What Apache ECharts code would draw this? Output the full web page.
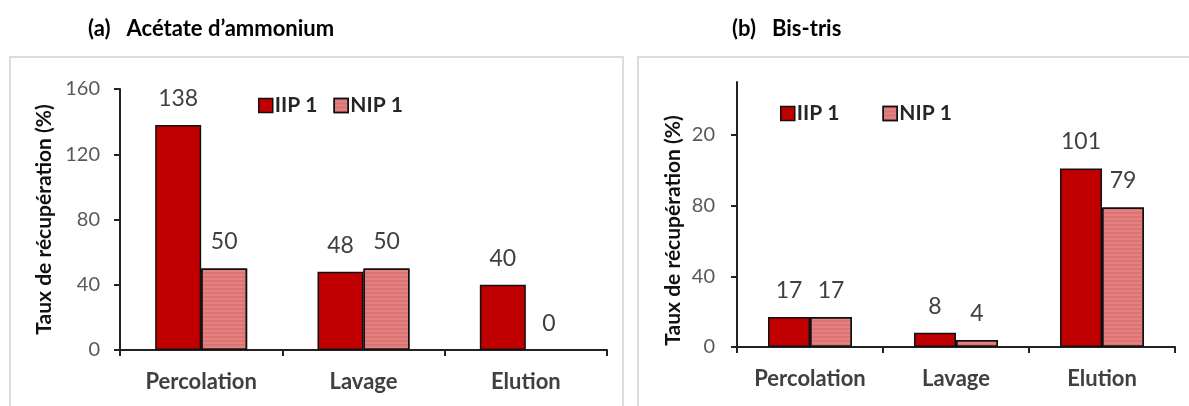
<!DOCTYPE html>
<html>
<head>
<meta charset="utf-8">
<script src="https://cdn.jsdelivr.net/npm/echarts@6/dist/echarts.min.js"></script>
<style>html,body{margin:0;padding:0;background:#fff;}#c{width:1189px;height:406px;}</style>
</head>
<body>
<div id="c"></div>
<script>
// ---- data ----
const categories = ['Percolation', 'Lavage', 'Elution'];
const seriesNames = ['IIP 1', 'NIP 1'];
const iipA = [138, 48, 40];
const nipA = [50, 50, 0];
const iipB = [17, 8, 101];
const nipB = [17, 4, 79];
const ticksA = [0, 40, 80, 120, 160];
const ticksB = [0, 40, 80, 120];
const tickLabelsB = ['0', '40', '80', '20'];
const titleA = '(a)   Acétate d\u2019ammonium';
const titleB = '(b)   Bis-tris';
const yName = 'Taux de récupération (%)';

const FONT = 'Lato';
const RED = '#C00000';
const PINK = '#E48181';

const chart = echarts.init(document.getElementById('c'), null, {renderer: 'canvas'});

function barData(arr) {
  return arr.map(v => v === 0 ? {value: v, itemStyle: {borderWidth: 0}} : v);
}
function mkSeries(name, data, idx, color, bw, decal) {
  const s = {
    name: name, type: 'bar', xAxisIndex: idx, yAxisIndex: idx,
    data: barData(data), barWidth: bw, barGap: '0%',
    itemStyle: {color: color, borderColor: '#111', borderWidth: 1.5},
    label: {show: true, position: 'top', distance: 15, color: '#404040',
            fontFamily: FONT, fontSize: 23},
    emphasis: {disabled: true}
  };
  if (decal) s.itemStyle.decal = {symbol: 'rect', symbolSize: 1, dashArrayX: [[1, 0]],
                                  dashArrayY: [2, 2], color: 'rgba(200,90,90,0.35)'};
  return s;
}
function xAx(idx) {
  return {
    type: 'category', gridIndex: idx, data: categories,
    axisLine: {lineStyle: {color: '#222', width: 2}},
    axisTick: {show: true, length: 6, lineStyle: {color: '#222', width: 2}},
    axisLabel: {color: '#404040', fontFamily: FONT, fontWeight: 'bold', fontSize: 22, margin: 21}
  };
}
function yAx(idx, ticks, max, labels, gap, pad, margin) {
  return {
    type: 'value', gridIndex: idx, min: 0, max: max, interval: 40,
    splitLine: {show: false},
    axisLine: {show: true, lineStyle: {color: '#222', width: 2}},
    axisTick: {show: true, length: 6, customValues: ticks, lineStyle: {color: '#222', width: 2}},
    axisLabel: {customValues: ticks, color: '#595959', fontFamily: FONT, fontSize: 20, margin: margin,
                formatter: v => labels ? labels[ticks.indexOf(v)] : String(v)},
    name: yName, nameLocation: 'middle', nameGap: gap,
    nameTextStyle: {color: '#111', fontFamily: FONT, fontWeight: 'bold', fontSize: 21, padding: pad}
  };
}

const option = {
  animation: false,
  backgroundColor: '#fff',
  color: [RED, PINK],
  textStyle: {fontFamily: FONT},
  title: [
    {text: titleA, left: 83, top: 13, textStyle: {fontFamily: FONT, fontWeight: 'bold', fontSize: 22, color: '#000'}},
    {text: titleB, left: 727, top: 13, textStyle: {fontFamily: FONT, fontWeight: 'bold', fontSize: 22, color: '#000'}}
  ],
  legend: [
    {data: seriesNames, left: 253, top: 90, itemWidth: 14, itemHeight: 14, itemGap: 16,
     icon: 'rect', itemStyle: {borderColor: '#111', borderWidth: 1.5},
     textStyle: {fontFamily: FONT, fontWeight: 'bold', fontSize: 21, color: '#262626', padding: [0, 0, 0, -3]},
     selectedMode: false},
    {data: seriesNames, left: 775, top: 98, itemWidth: 14, itemHeight: 14, itemGap: 43,
     icon: 'rect', itemStyle: {borderColor: '#111', borderWidth: 1.5},
     textStyle: {fontFamily: FONT, fontWeight: 'bold', fontSize: 21, color: '#262626', padding: [0, 0, 0, -3]},
     selectedMode: false}
  ],
  grid: [
    {left: 120, top: 89, width: 487, height: 261, containLabel: false, outerBoundsMode: 'none'},
    {left: 737, top: 82, width: 438, height: 265, containLabel: false, outerBoundsMode: 'none'}
  ],
  xAxis: [xAx(0), xAx(1)],
  yAxis: [
    yAx(0, ticksA, 160, null, 65, 0, 20),
    yAx(1, ticksB, 150, tickLabelsB, 53, [0, 32, 0, 0], 22)
  ],
  series: [
    mkSeries(seriesNames[0], iipA, 0, RED, 46, false),
    mkSeries(seriesNames[1], nipA, 0, PINK, 46, true),
    mkSeries(seriesNames[0], iipB, 1, RED, 42, false),
    mkSeries(seriesNames[1], nipB, 1, PINK, 42, true)
  ],
  graphic: [
    {type: 'rect', silent: true, z: -1, shape: {x: 10, y: 57, width: 613, height: 400},
     style: {fill: null, stroke: '#dcdcdc', lineWidth: 2}},
    {type: 'rect', silent: true, z: -1, shape: {x: 638, y: 57, width: 600, height: 400},
     style: {fill: null, stroke: '#dcdcdc', lineWidth: 2}}
  ]
};
chart.setOption(option);
</script>
</body>
</html>
